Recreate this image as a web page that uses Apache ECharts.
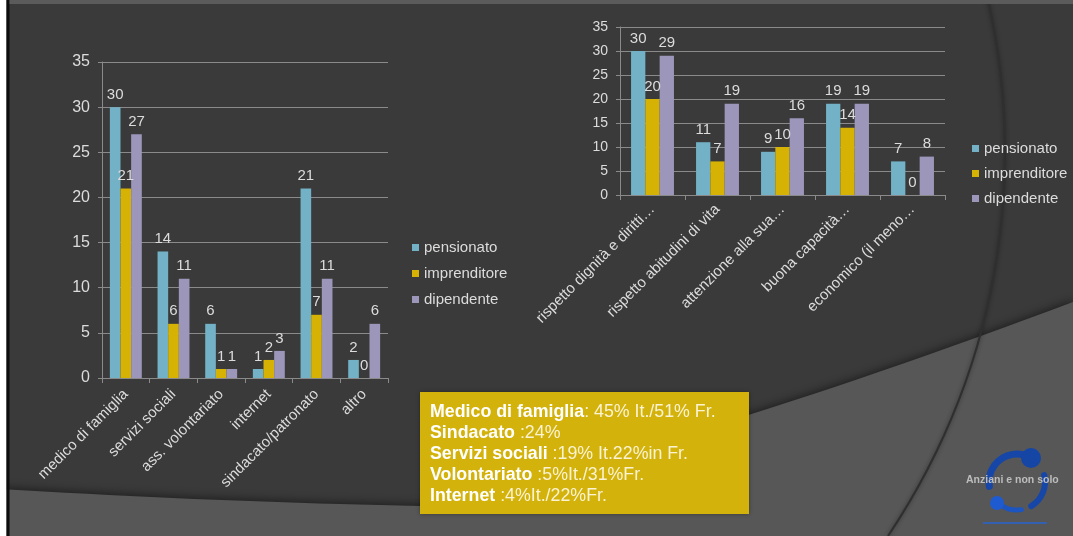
<!DOCTYPE html>
<html>
<head>
<meta charset="utf-8">
<script src="https://cdn.jsdelivr.net/npm/echarts@6/dist/echarts.min.js"></script>
<style>
  html, body { margin: 0; padding: 0; background: #3a3a3a; }
  #chart { width: 1073px; height: 536px; }
</style>
</head>
<body>
<div id="chart"></div>
<script>
// Canali di informazione (grafico a sinistra)
const channelCategories = ['medico di famiglia', 'servizi sociali', 'ass. volontariato', 'internet', 'sindacato/patronato', 'altro'];
const channelPensionato = [30, 14, 6, 1, 21, 2];
const channelImprenditore = [21, 6, 1, 2, 7, 0];
const channelDipendente = [27, 11, 1, 3, 11, 6];

// Criteri di scelta (grafico a destra)
const criteriaCategories = ['rispetto dignità e diritti…', 'rispetto abitudini di vita', 'attenzione alla sua…', 'buona capacità…', 'economico (il meno…'];
const criteriaPensionato = [30, 11, 9, 19, 7];
const criteriaImprenditore = [20, 7, 10, 14, 0];
const criteriaDipendente = [29, 19, 16, 19, 8];

const seriesNames = ['pensionato', 'imprenditore', 'dipendente'];
const yTicks = { min: 0, max: 35, interval: 5 };

// Note nel riquadro giallo
const noteLines = [
  ['Medico di famiglia', ': 45% It./51% Fr.'],
  ['Sindacato', ' :24%'],
  ['Servizi sociali', ' :19% It.22%in Fr.'],
  ['Volontariato', ' :5%It./31%Fr.'],
  ['Internet', ' :4%It./22%Fr.']
];
const logoText = 'Anziani e non solo';

const colors = ['#72b1c6', '#d6b204', '#9d96bb'];
const FONT = '"Liberation Sans", Arial, sans-serif';
const textColor = '#dcdcdc';
const gridColor = '#8a8a8a';

const chart = echarts.init(document.getElementById('chart'));

// punti di una curva quadratica, per il profilo della fascia chiara dello sfondo
function quad(p0, c, p1, n) {
  const pts = [];
  for (let i = 0; i <= n; i++) {
    const t = i / n, u = 1 - t;
    pts.push([u * u * p0[0] + 2 * u * t * c[0] + t * t * p1[0],
              u * u * p0[1] + 2 * u * t * c[1] + t * t * p1[1]]);
  }
  return pts;
}
const lowerBand = quad([0, 489], [220, 502], [420, 506], 20)
  .concat(quad([420, 506], [700, 442], [1073, 302], 30).slice(1))
  .concat([[1073, 536], [0, 536]]);

function barSeries(name, data, idx, fontSize, gapPct) {
  return {
    name: name,
    type: 'bar',
    xAxisIndex: idx,
    yAxisIndex: idx,
    data: data,
    barGap: '0%',
    barCategoryGap: gapPct,
    itemStyle: { color: colors[seriesNames.indexOf(name)] },
    label: {
      show: true,
      position: 'top',
      distance: 5,
      color: textColor,
      fontFamily: FONT,
      fontSize: fontSize
    }
  };
}

function yAxis(idx, fontSize) {
  return {
    type: 'value',
    gridIndex: idx,
    min: yTicks.min,
    max: yTicks.max,
    interval: yTicks.interval,
    axisLine: { show: true, lineStyle: { color: gridColor } },
    axisTick: { show: true, length: 4, lineStyle: { color: gridColor } },
    splitLine: { show: true, lineStyle: { color: gridColor, width: 1 } },
    axisLabel: { color: textColor, fontFamily: FONT, fontSize: fontSize, margin: 12 }
  };
}

function xAxis(idx, cats, fontSize, margin) {
  return {
    type: 'category',
    gridIndex: idx,
    data: cats,
    axisLine: { show: true, lineStyle: { color: gridColor } },
    axisTick: { show: true, length: 5, lineStyle: { color: gridColor } },
    axisLabel: {
      rotate: 45,
      interval: 0,
      color: textColor,
      fontFamily: FONT,
      fontSize: fontSize,
      margin: margin
    }
  };
}

// stili del testo nel riquadro giallo (zrender usa "fill" per il colore)
const noteRich = {
  b: { fontFamily: FONT, fontSize: 17.8, fontWeight: 'bold', fill: '#ffffff', lineHeight: 21 },
  n: { fontFamily: FONT, fontSize: 17.8, fill: '#fbf3d2', lineHeight: 21 }
};
const noteText = noteLines.map(l => '{b|' + l[0] + '}{n|' + l[1] + '}').join('\n');

const option = {
  backgroundColor: '#3a3a3a',
  animation: false,
  graphic: [
    // fascia chiara inferiore dello sfondo
    {
      type: 'polygon', z: -20, silent: true,
      shape: { points: lowerBand },
      style: { fill: '#575757', shadowBlur: 8, shadowColor: 'rgba(0,0,0,0.45)', shadowOffsetY: -2 }
    },
    // arco verticale a destra
    {
      type: 'bezierCurve', z: -19, silent: true,
      shape: { x1: 988, y1: 0, cpx1: 1022, cpy1: 150, cpx2: 1012, cpy2: 350, x2: 888, y2: 536 },
      style: { fill: null, stroke: '#2f2f2f', lineWidth: 2, shadowBlur: 4, shadowColor: 'rgba(0,0,0,0.4)' }
    },
    // bordo sinistro
    { type: 'rect', z: -18, silent: true, shape: { x: 0, y: 0, width: 6.5, height: 536 }, style: { fill: '#ffffff' } },
    { type: 'rect', z: -18, silent: true, shape: { x: 6.5, y: 0, width: 3, height: 536 }, style: { fill: '#0d0d0d' } },
    // fascia del titolo
    { type: 'rect', z: -18, silent: true, shape: { x: 9.5, y: 0, width: 1064, height: 4 }, style: { fill: '#5b5b5b' } },
    // riquadro con le note
    {
      type: 'rect', z: 10, shape: { x: 420, y: 392, width: 329, height: 122 },
      style: { fill: '#d3b20b', shadowBlur: 4, shadowColor: 'rgba(0,0,0,0.35)' }
    },
    {
      type: 'text', z: 11, left: 430, top: 403,
      style: { text: noteText, rich: noteRich, fontFamily: FONT, fontSize: 17.8, fill: '#ffffff' }
    },
    // logo
    {
      type: 'arc', z: 5, silent: true,
      shape: { cx: 1017, cy: 482, r: 28, startAngle: Math.PI * 0.95, endAngle: Math.PI * 1.58 },
      style: { fill: null, stroke: '#1646a8', lineWidth: 7, lineCap: 'round' }
    },
    {
      type: 'arc', z: 5, silent: true,
      shape: { cx: 1017, cy: 482, r: 28, startAngle: Math.PI * 1.92, endAngle: Math.PI * 2.33 },
      style: { fill: null, stroke: '#1646a8', lineWidth: 6, lineCap: 'round' }
    },
    {
      type: 'arc', z: 5, silent: true,
      shape: { cx: 1017, cy: 482, r: 28, startAngle: Math.PI * 0.45, endAngle: Math.PI * 0.7 },
      style: { fill: null, stroke: '#1d55c0', lineWidth: 5, lineCap: 'round' }
    },
    { type: 'circle', z: 6, silent: true, shape: { cx: 1031, cy: 458, r: 10 }, style: { fill: '#1546a6' } },
    { type: 'circle', z: 6, silent: true, shape: { cx: 997, cy: 503, r: 7 }, style: { fill: '#1f5bd0' } },
    {
      type: 'text', z: 7, silent: true, left: 966, top: 475,
      style: { text: logoText, fontFamily: FONT, fontSize: 10.5, fontWeight: 'bold', fill: '#bdbdbd' }
    },
    { type: 'rect', z: 6, silent: true, shape: { x: 983, y: 522, width: 64, height: 2 }, style: { fill: '#2b63c8', opacity: 0.8 } }
  ],
  grid: [
    { left: 102, right: 685, top: 62, bottom: 158, containLabel: false },
    { left: 620, right: 128, top: 27, bottom: 341, containLabel: false }
  ],
  legend: [
    {
      orient: 'vertical', left: 407, top: 235,
      data: seriesNames, icon: 'rect', itemWidth: 7, itemHeight: 7, itemGap: 11,
      textStyle: { color: textColor, fontFamily: FONT, fontSize: 15 }
    },
    {
      orient: 'vertical', left: 967, top: 136,
      data: seriesNames, icon: 'rect', itemWidth: 7, itemHeight: 7, itemGap: 10,
      textStyle: { color: textColor, fontFamily: FONT, fontSize: 15 }
    }
  ],
  xAxis: [xAxis(0, channelCategories, 15, 14), xAxis(1, criteriaCategories, 15, 12)],
  yAxis: [yAxis(0, 16), yAxis(1, 14)],
  series: [
    barSeries('pensionato', channelPensionato, 0, 15, '33%'),
    barSeries('imprenditore', channelImprenditore, 0, 15, '33%'),
    barSeries('dipendente', channelDipendente, 0, 15, '33%'),
    barSeries('pensionato', criteriaPensionato, 1, 15, '34%'),
    barSeries('imprenditore', criteriaImprenditore, 1, 15, '34%'),
    barSeries('dipendente', criteriaDipendente, 1, 15, '34%')
  ]
};

chart.setOption(option);
</script>
</body>
</html>
